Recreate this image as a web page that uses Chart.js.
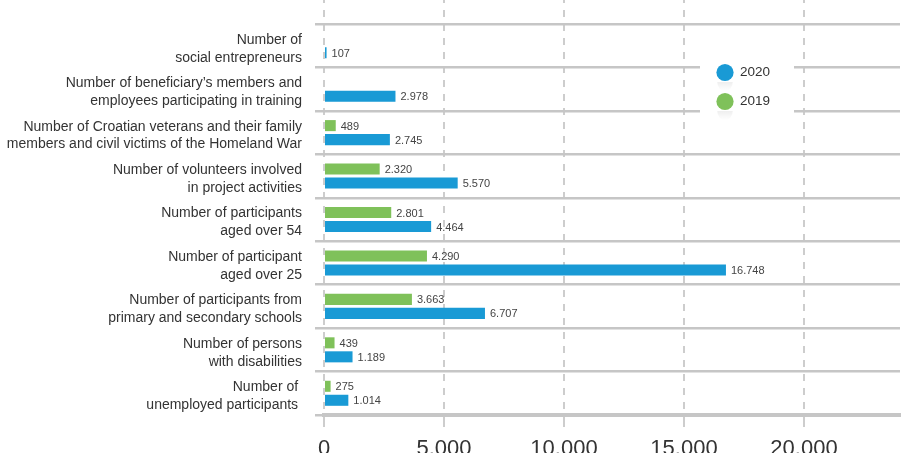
<!DOCTYPE html>
<html>
<head>
<meta charset="utf-8">
<script src="https://cdn.jsdelivr.net/npm/chart.js@4"></script>
<style>
  body { margin: 0; background: #fff; }
  #wrap { width: 901px; height: 453px; position: relative; }
</style>
</head>
<body>
<div id="wrap"><canvas id="chart"></canvas></div>
<script>
var categories = [
    ['Number of', 'social entrepreneurs'],
    ["Number of beneficiary\u2019s members and", 'employees participating in training'],
    ['Number of Croatian veterans and their family', 'members and civil victims of the Homeland War'],
    ['Number of volunteers involved', 'in project activities'],
    ['Number of participants', 'aged over 54'],
    ['Number of participant', 'aged over 25'],
    ['Number of participants from', 'primary and secondary schools'],
    ['Number of persons', 'with disabilities'],
    ['Number of ', 'unemployed participants ']
];
var values2019 = [null, null, 489, 2320, 2801, 4290, 3663, 439, 275];
var values2020 = [107, 2978, 2745, 5570, 4464, 16748, 6707, 1189, 1014];
var xTicks = [0, 5000, 10000, 15000, 20000];

var gridGray = '#c6c6c6';
var dashGray = '#cdcdcd';

function fmt(v) {
    return String(v).replace(/\B(?=(\d{3})+(?!\d))/g, '.');
}

// dashed lines continue above the first separator
var topDashes = {
    id: 'topDashes',
    beforeDatasetsDraw: function(chart) {
        var ctx = chart.ctx, x = chart.scales.x;
        ctx.save();
        ctx.strokeStyle = dashGray;
        ctx.lineWidth = 2;
        ctx.setLineDash([7, 7]);
        x.ticks.forEach(function(t) {
            var px = x.getPixelForValue(t.value);
            ctx.beginPath();
            ctx.moveTo(px, chart.chartArea.top - 7);
            ctx.lineTo(px, 0);
            ctx.stroke();
        });
        ctx.restore();
    }
};

// numbers next to the bars
var valueLabels = {
    id: 'valueLabels',
    afterDatasetsDraw: function(chart) {
        var ctx = chart.ctx;
        ctx.save();
        ctx.font = '11px "Liberation Sans", Arial, sans-serif';
        ctx.fillStyle = '#444';
        ctx.textBaseline = 'middle';
        ctx.textAlign = 'left';
        chart.data.datasets.forEach(function(ds, i) {
            chart.getDatasetMeta(i).data.forEach(function(bar, j) {
                var v = ds.data[j];
                if (v == null) return;
                ctx.fillText(fmt(v), bar.x + 5, bar.y + 1);
            });
        });
        ctx.restore();
    }
};

// legend with round markers, 2020 first
var roundLegend = {
    id: 'roundLegend',
    afterDraw: function(chart) {
        var ctx = chart.ctx;
        var items = chart.data.datasets.slice().reverse();
        ctx.save();
        ctx.fillStyle = '#fff';
        ctx.fillRect(700, 56, 94, 62);
        items.forEach(function(ds, k) {
            var cx = 725, cy = 72.5 + k * 29, r = 8.6;
            // faint reflection
            var g = ctx.createLinearGradient(0, cy + r, 0, cy + r + 10);
            g.addColorStop(0, 'rgba(0,0,0,0.07)');
            g.addColorStop(1, 'rgba(0,0,0,0)');
            ctx.fillStyle = g;
            ctx.beginPath();
            ctx.ellipse(cx, cy + r + 1, r * 0.9, 9, 0, 0, Math.PI);
            ctx.fill();
            ctx.fillStyle = ds.backgroundColor;
            ctx.beginPath();
            ctx.arc(cx, cy, r, 0, Math.PI * 2);
            ctx.fill();
            ctx.fillStyle = '#333';
            ctx.font = '13.5px "Liberation Sans", Arial, sans-serif';
            ctx.textBaseline = 'middle';
            ctx.fillText(ds.label, 740, cy);
        });
        ctx.restore();
    }
};

new Chart(document.getElementById('chart').getContext('2d'), {
    type: 'bar',
    data: {
        labels: categories,
        datasets: [{
            label: '2019',
            data: values2019,
            backgroundColor: '#7fc15a',
            barPercentage: 0.79,
            categoryPercentage: 0.644
        }, {
            label: '2020',
            data: values2020,
            backgroundColor: '#199ad5',
            barPercentage: 0.79,
            categoryPercentage: 0.644
        }]
    },
    options: {
        indexAxis: 'y',
        responsive: true,
        maintainAspectRatio: false,
        animation: false,
        layout: { padding: { top: 24, right: 1, left: 0, bottom: 0 } },
        plugins: {
            legend: { display: false },
            tooltip: { enabled: false }
        },
        scales: {
            x: {
                min: 0,
                max: 24000,
                afterBuildTicks: function(scale) {
                    scale.ticks = xTicks.map(function(v) { return { value: v }; });
                },
                afterFit: function(scale) {
                    scale.height = 38;
                    scale.paddingLeft = 0;
                    scale.paddingRight = 0;
                },
                grid: {
                    color: dashGray,
                    lineWidth: 2,
                    tickLength: 12,
                    tickColor: dashGray
                },
                border: { display: true, color: gridGray, width: 4, dash: [7, 7] },
                ticks: {
                    padding: 9,
                    color: '#333',
                    font: { family: '"Liberation Sans", Arial, sans-serif', size: 22 },
                    callback: function(v) { return fmt(v); }
                }
            },
            y: {
                afterFit: function(scale) {
                    scale.width = 324;
                    scale.paddingTop = 0;
                    scale.paddingBottom = 0;
                },
                grid: {
                    offset: true,
                    color: gridGray,
                    lineWidth: 2.5,
                    tickLength: 9
                },
                border: { display: false },
                ticks: {
                    padding: 13,
                    labelOffset: 3,
                    color: '#333',
                    font: { family: '"Liberation Sans", Arial, sans-serif', size: 14, lineHeight: 1.28 }
                }
            }
        }
    },
    plugins: [topDashes, valueLabels, roundLegend]
});
</script>
</body>
</html>
